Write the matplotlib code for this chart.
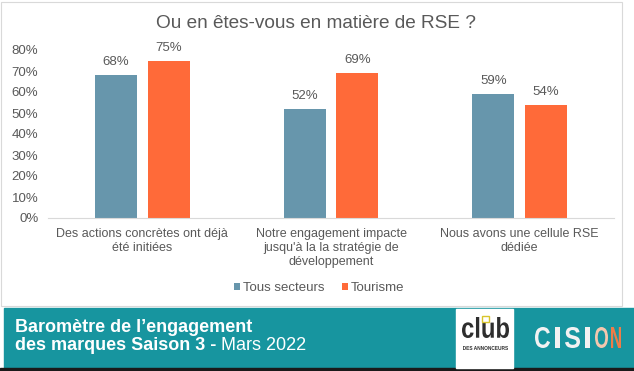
import numpy as np
import matplotlib.pyplot as plt
from matplotlib.patches import Rectangle, PathPatch
from matplotlib.textpath import TextPath
from matplotlib.font_manager import FontProperties
from matplotlib.transforms import Affine2D

categories = ["Des actions concrètes ont déjà\nété initiées",
              "Notre engagement impacte\njusqu'à la la stratégie de\ndéveloppement",
              "Nous avons une cellule RSE\ndédiée"]
tous_secteurs = [0.68, 0.52, 0.59]
tourisme = [0.75, 0.69, 0.54]
series_names = ["Tous secteurs", "Tourisme"]
yticks = [0, 0.1, 0.2, 0.3, 0.4, 0.5, 0.6, 0.7, 0.8]

BLUE = "#6796AC"
ORANGE = "#FF6A39"
TEAL = "#17959F"
GREY = "#595959"

plt.rcParams['font.family'] = ['Liberation Sans', 'DejaVu Sans']

fig = plt.figure(figsize=(6.34, 3.71), dpi=100)
W, H = 634, 371


def fx(px):
    return px / W


def fy(py):
    return 1 - py / H


def stretched(s, x0, x1, ytop, ybot, color, weight="bold", family="Liberation Sans"):
    # glyph outline squeezed into a pixel box (top-left origin)
    tp = TextPath((0, 0), s, size=10, prop=FontProperties(family=family, weight=weight))
    bb = tp.get_extents()
    tr = (Affine2D().translate(-bb.x0, -bb.y0)
          .scale((x1 - x0) / bb.width, (ybot - ytop) / bb.height)
          .translate(x0, H - ybot))
    fig.patches.append(PathPatch(tp, transform=tr, color=color, lw=0, zorder=3))


# chart border
fig.patches.append(Rectangle((fx(1), fy(306)), fx(622) - fx(1), fy(2) - fy(306),
                             transform=fig.transFigure, fill=False,
                             edgecolor="#D9D9D9", linewidth=0.8))

ax = fig.add_axes([fx(48), fy(218), fx(614) - fx(48), fy(50) - fy(218)])
x = np.arange(len(categories))
w = 0.222
off = 0.14
b1 = ax.bar(x - off, tous_secteurs, w, color=BLUE, label=series_names[0])
b2 = ax.bar(x + off, tourisme, w, color=ORANGE, label=series_names[1])
for bars in (b1, b2):
    for rect in bars:
        ax.annotate(f"{rect.get_height() * 100:.0f}%",
                    (rect.get_x() + rect.get_width() / 2, rect.get_height()),
                    xytext=(0, 5), textcoords="offset points",
                    ha="center", va="bottom", fontsize=9.5, color=GREY)

ax.set_xlim(-0.5, 2.5)
ax.set_ylim(0, 0.8)
ax.set_yticks(yticks)
ax.set_yticklabels([f"{t * 100:.0f}%" for t in yticks])
ax.set_xticks(x)
ax.set_xticklabels(categories)
ax.tick_params(axis="y", length=0, labelsize=9.5, labelcolor=GREY, pad=7)
ax.tick_params(axis="x", length=0, labelsize=9, labelcolor=GREY, pad=7.5)
for s in ["top", "right", "left"]:
    ax.spines[s].set_visible(False)
ax.spines["bottom"].set_color("#D9D9D9")

fig.text(fx(316), fy(23), "Ou en êtes-vous en matière de RSE ?", ha="center",
         va="center", fontsize=13.7, color=GREY)

ax.legend(loc="center", bbox_to_anchor=(fx(319), fy(288)),
          bbox_transform=fig.transFigure, ncol=2, frameon=False,
          fontsize=9.5, labelcolor=GREY, handlelength=0.45, handleheight=0.45,
          handletextpad=0.25, columnspacing=1.3)

# footer
fig.patches.append(Rectangle((fx(4), fy(368)), 1 - fx(4), fy(308) - fy(368),
                             transform=fig.transFigure, color=TEAL, zorder=0))
fig.patches.append(Rectangle((0, 0), 1, fy(368),
                             transform=fig.transFigure, color="#1A1A1A", zorder=0))
fig.text(fx(15), fy(327), "Baromètre de l’engagement", color="white",
         fontsize=13, fontweight="bold", va="center")
t2 = fig.text(fx(15), fy(346), "des marques Saison 3 - ", color="white",
              fontsize=13, fontweight="bold", va="center")
r = fig.canvas.get_renderer()
x_end = t2.get_window_extent(renderer=r).x1
fig.text(x_end / W, fy(346), "Mars 2022", color="white",
         fontsize=13, va="center")

# club logo
fig.patches.append(Rectangle((fx(456), fy(368)), fx(513) - fx(456), fy(309) - fy(368),
                             transform=fig.transFigure, color="white", zorder=1))
stretched("club", 462, 509, 317, 338, "#2E2E2E")
stretched("DES ANNONCEURS", 463, 508, 346, 350, "#2E2E2E")
fig.patches.append(Rectangle((fx(482), fy(322)), fx(7), fy(316) - fy(322),
                             transform=fig.transFigure, fill=False,
                             edgecolor="#D8C52C", linewidth=1.0, zorder=4))

# cision logo
letters = ["C", "I", "S", "I", "O", "N"]
lcols = ["#F2F2F2", "#F2F2F2", "#F2F2F2", "#F2F2F2", "#F4C7AE", "#EE7C48"]
lx = [(535, 550), (555, 560), (565, 580), (585, 590), (595, 608), (611, 621)]
for ch, c, (a, b) in zip(letters, lcols, lx):
    stretched(ch, a, b, 327, 348, c)

fig.savefig("out.png", dpi=100)
